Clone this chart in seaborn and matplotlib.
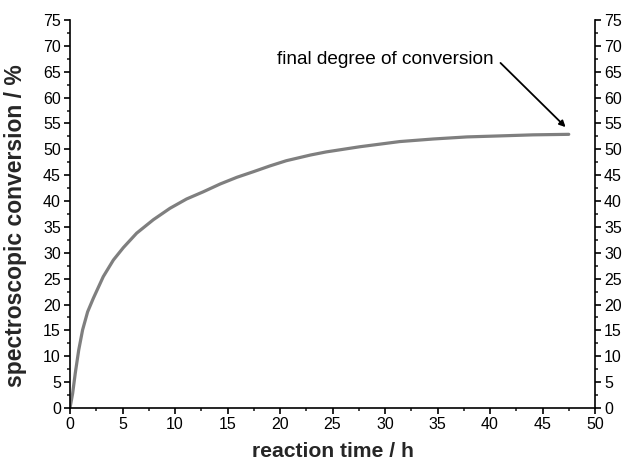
import matplotlib
matplotlib.use("Agg")
import matplotlib.pyplot as plt
from matplotlib.ticker import MultipleLocator
import seaborn as sns
import pandas as pd

time_h = [0, 0.25, 0.5, 0.83, 1.2, 1.68, 2.22, 3.17, 4.13, 5.08, 6.35, 7.94,
          9.52, 11.1, 12.7, 14.3, 15.9, 17.5, 19.05, 20.6, 22.9, 24.4, 27.6,
          31.4, 34.6, 37.8, 41.0, 44.1, 47.5]
conversion = [0, 2.8, 6.7, 11.2, 15.1, 18.6, 21.2, 25.4, 28.6, 31.0, 33.8, 36.4,
              38.6, 40.4, 41.8, 43.3, 44.6, 45.7, 46.8, 47.8, 48.9, 49.5, 50.5,
              51.5, 52.0, 52.4, 52.6, 52.8, 52.9]
x_ticks = [0, 5, 10, 15, 20, 25, 30, 35, 40, 45, 50]
y_ticks = [0, 5, 10, 15, 20, 25, 30, 35, 40, 45, 50, 55, 60, 65, 70, 75]
annotation_text = "final degree of conversion"

sns.set_style("ticks")
plt.rcParams["font.family"] = ["Liberation Sans", "DejaVu Sans"]

df = pd.DataFrame({"t": time_h, "c": conversion})

fig = plt.figure(figsize=(6.25, 4.62), dpi=100)
ax = fig.add_axes([70 / 625, 1 - 408 / 462, 525 / 625, 388 / 462])

sns.lineplot(data=df, x="t", y="c", ax=ax, color="#7f7f7f", linewidth=2.3)

ax.set_xlim(0, 50)
ax.set_ylim(0, 75)
ax.set_xticks(x_ticks)
ax.set_yticks(y_ticks)
ax.xaxis.set_minor_locator(MultipleLocator(2.5))
ax.yaxis.set_minor_locator(MultipleLocator(2.5))

ax.spines["top"].set_visible(False)
for s in ["left", "bottom", "right"]:
    ax.spines[s].set_visible(True)
    ax.spines[s].set_linewidth(1.2)
    ax.spines[s].set_color("black")

ax.tick_params(axis="both", which="major", direction="out", length=4.5, width=1.2,
               labelsize=11.5, colors="black", pad=2)
ax.tick_params(axis="both", which="minor", direction="out", length=2.5, width=1.2)
ax.tick_params(axis="y", which="both", left=True, right=True, labelleft=True, labelright=True)

ax.set_xlabel("reaction time / h", fontsize=15.2, fontweight="bold", labelpad=7)
ax.set_ylabel("spectroscopic conversion / %", fontsize=16.5, fontweight="bold")
ax.yaxis.set_label_coords(-0.081, 0.469)

ax.text(40.3, 67.3, annotation_text, ha="right", va="center", fontsize=13.7, color="black")
ax.annotate("", xy=(47.2, 54.3), xytext=(41.0, 66.7),
            arrowprops=dict(arrowstyle="-|>", color="black", lw=1.3,
                            mutation_scale=9, shrinkA=0, shrinkB=0))

fig.savefig("out.png", dpi=100, facecolor="white")
